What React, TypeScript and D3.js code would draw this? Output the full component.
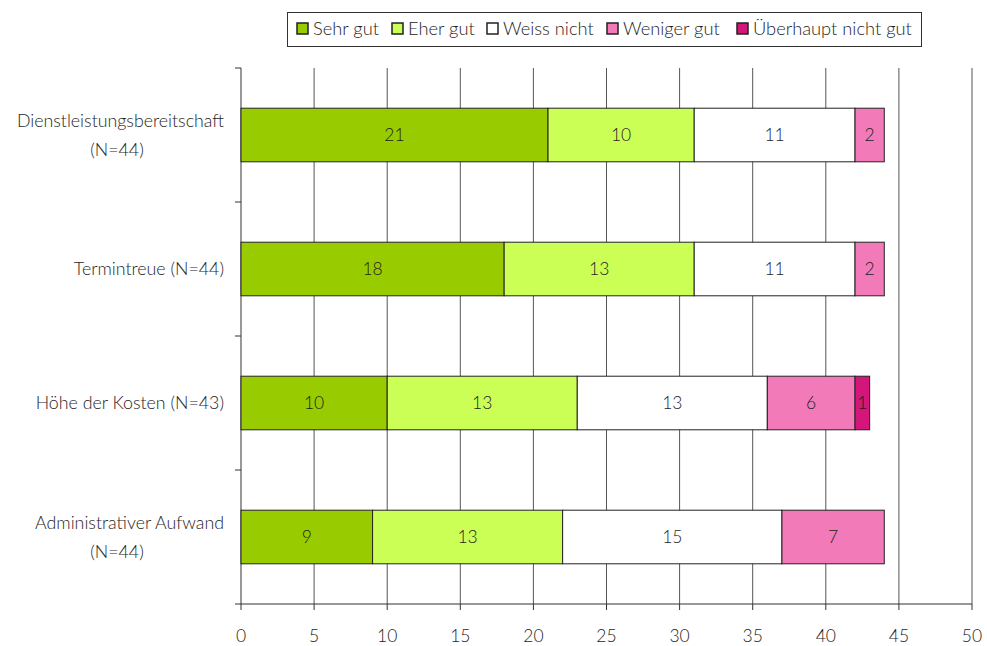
import * as d3 from 'd3'

const categories = [
  ['Dienstleistungsbereitschaft', '(N=44)'],
  ['Termintreue (N=44)'],
  ['Höhe der Kosten (N=43)'],
  ['Administrativer Aufwand', '(N=44)'],
]
const seriesNames = ['Sehr gut', 'Eher gut', 'Weiss nicht', 'Weniger gut', 'Überhaupt nicht gut']
const seriesColors = ['#99cc00', '#ccff55', '#ffffff', '#f27ab8', '#d4157a']
const values = [
  [21, 10, 11, 2, 0],
  [18, 13, 11, 2, 0],
  [10, 13, 13, 6, 1],
  [9, 13, 15, 7, 0],
]
const xTicks = [0, 5, 10, 15, 20, 25, 30, 35, 40, 45, 50]

const W = 987
const H = 646
const left = 241
const right = 972
const top = 68
const bottom = 604
const font = 'Lato, "Open Sans", sans-serif'
const ink = '#1e1e1e'

// legend square x positions
const legendX = [297, 392, 487, 607, 737]

export default function App() {
  const x = d3.scaleLinear().domain([0, 50]).range([left, right])
  const y = d3.scaleBand<number>().domain(d3.range(categories.length)).range([top, bottom]).paddingInner(0.6).paddingOuter(0.3)
  const band = (bottom - top) / categories.length
  const stacked = values.map((row) => {
    let acc = 0
    return row.map((v) => {
      const s = acc
      acc += v
      return { s, e: acc, v }
    })
  })

  return (
    <svg width={W} height={H} style={{ position: 'absolute', left: 0, top: 0, background: '#fff' }} fontFamily={font} fontWeight={300}>
      {/* gridlines */}
      {xTicks.slice(1).map((t) => (
        <line key={t} x1={x(t)} x2={x(t)} y1={top} y2={bottom} stroke="#555" strokeWidth={1} />
      ))}
      {/* y axis */}
      <line x1={left} x2={left} y1={top} y2={bottom} stroke="#333" />
      {d3.range(categories.length + 1).map((i) => (
        <line key={i} x1={left - 6} x2={left} y1={top + i * band} y2={top + i * band} stroke="#333" />
      ))}
      {/* x axis */}
      <line x1={left} x2={right} y1={bottom} y2={bottom} stroke="#333" />
      {xTicks.map((t) => (
        <g key={t}>
          <line x1={x(t)} x2={x(t)} y1={bottom} y2={bottom + 6} stroke="#333" />
          <text x={x(t)} y={642} textAnchor="middle" fontSize={17.5} fill={ink}>{t}</text>
        </g>
      ))}
      {/* bars */}
      {stacked.map((row, i) => (
        <g key={i}>
          {row.map((seg, j) =>
            seg.v > 0 ? (
              <g key={j}>
                <rect x={x(seg.s)} y={y(i)} width={x(seg.e) - x(seg.s)} height={y.bandwidth()} fill={seriesColors[j]} stroke="#222" strokeWidth={1} />
                <text x={(x(seg.s) + x(seg.e)) / 2} y={y(i)! + y.bandwidth() / 2 + 6} textAnchor="middle" fontSize={17.5} fill={ink}>{seg.v}</text>
              </g>
            ) : null
          )}
          {categories[i].map((ln, k) => {
            const second = categories[i].length > 1 && k === 1
            return (
              <text key={k} x={second ? 117 : 224} textAnchor={second ? 'middle' : 'end'} fontSize={17.8} fill={ink}
                y={y(i)! + y.bandwidth() / 2 + 6 + (k - (categories[i].length - 1) / 2) * 29}>{ln}</text>
            )
          })}
        </g>
      ))}
      {/* legend */}
      <rect x={287.5} y={12.5} width={634} height={34} fill="#fff" stroke="#333" />
      {seriesNames.map((n, j) => (
        <g key={n}>
          <rect x={legendX[j]} y={23} width={11} height={11} fill={seriesColors[j]} stroke="#222" strokeWidth={1.5} />
          <text x={legendX[j] + 16} y={35} fontSize={18.3} fill={ink}>{n}</text>
        </g>
      ))}
    </svg>
  )
}
